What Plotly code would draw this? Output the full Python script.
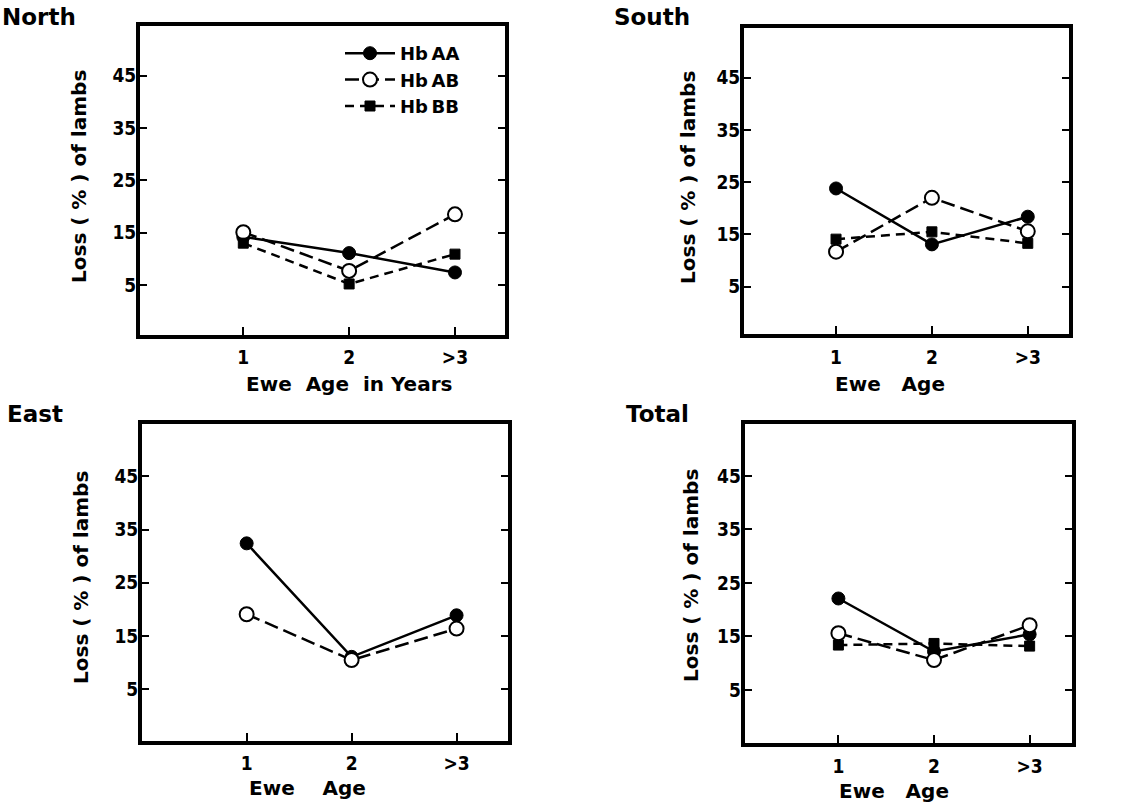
import plotly.graph_objects as go

W, H = 1142, 802

# ---------------- data ----------------
ages = [1, 2, 3]
age_labels = ["1", "2", ">3"]
y_ticks = [5, 15, 25, 35, 45]
genotypes = ["HbAA", "HbAB", "HbBB"]

north_aa = [14.2, 11.1, 7.4]
north_ab = [15.1, 7.7, 18.5]
north_bb = [13.0, 5.2, 10.9]

south_aa = [23.8, 13.1, 18.4]
south_ab = [11.7, 22.0, 15.6]
south_bb = [14.1, 15.5, 13.3]

east_aa = [32.4, 11.1, 18.9]
east_ab = [19.1, 10.5, 16.4]

total_aa = [22.1, 12.2, 15.4]
total_ab = [15.6, 10.6, 17.1]
total_bb = [13.4, 13.7, 13.2]

legend_names = ["Hb\u2009AA", "Hb\u2009AB", "Hb\u2009BB"]
panel_names = ["North", "South", "East", "Total"]
x_titles = ["Ewe\u00a0\u00a0Age\u00a0\u00a0in\u00a0Years", "Ewe\u00a0\u00a0\u00a0Age",
            "Ewe\u00a0\u00a0\u00a0\u00a0Age", "Ewe\u00a0\u00a0\u00a0Age"]
y_title = "Loss\u00a0(\u00a0%\u00a0)\u00a0of\u00a0lambs"

# ---------------- styles ----------------
styles = {
    "HbAA": dict(line=dict(color="black", width=2.5, dash="solid"),
                 marker=dict(symbol="circle", size=13, color="black",
                             line=dict(color="black", width=1))),
    "HbAB": dict(line=dict(color="black", width=2.5, dash="14px,6px"),
                 marker=dict(symbol="circle", size=14, color="white",
                             line=dict(color="black", width=2))),
    "HbBB": dict(line=dict(color="black", width=2.5, dash="9px,6px"),
                 marker=dict(symbol="square", size=10, color="black",
                             line=dict(color="black", width=1))),
}


def px_x(x):
    return x / W


def px_y(y):
    return 1 - y / H


panels = [
    dict(name="North", series={"HbAA": north_aa, "HbAB": north_ab, "HbBB": north_bb},
         xd=(140, 504.5), yd=(25.5, 334.5), xr=(0.024, 3.468), yr=(-4.46, 54.6),
         title_pos=(0, 17), ytitle_pos=(79, 177), xtitle_pos=(349, 384)),
    dict(name="South", series={"HbAA": south_aa, "HbAB": south_ab, "HbBB": south_bb},
         xd=(744, 1069), yd=(27.5, 334), xr=(0.04, 3.43), yr=(-4.05, 54.6),
         title_pos=(612, 17), ytitle_pos=(688, 177), xtitle_pos=(890, 384)),
    dict(name="East", series={"HbAA": east_aa, "HbAB": east_ab},
         xd=(142, 508), yd=(424, 740.5), xr=(0.003, 3.49), yr=(-4.6, 54.8),
         title_pos=(5, 414), ytitle_pos=(81, 578), xtitle_pos=(307, 788)),
    dict(name="Total", series={"HbAA": total_aa, "HbAB": total_ab, "HbBB": total_bb},
         xd=(744.7, 1071.7), yd=(424, 743), xr=(0.02, 3.44), yr=(-4.9, 54.7),
         title_pos=(624, 414), ytitle_pos=(691, 576), xtitle_pos=(894, 791)),
]

fig = go.Figure()
title_font = dict(family="DejaVu Sans", size=23, color="black", weight="bold")
axis_title_font = dict(family="DejaVu Sans", size=20, color="black", weight="bold")
tick_font = dict(family="DejaVu Sans Condensed, DejaVu Sans", size=19, color="black", weight="bold")

annotations = []
for i, p in enumerate(panels):
    suffix = "" if i == 0 else str(i + 1)
    xa, ya = "x" + suffix, "y" + suffix
    for g, lname in zip(genotypes, legend_names):
        if g not in p["series"]:
            continue
        st = styles[g]
        fig.add_trace(go.Scatter(
            x=ages, y=p["series"][g], mode="lines+markers", name=lname,
            line=st["line"], marker=st["marker"], xaxis=xa, yaxis=ya,
            showlegend=(i == 0), legendgroup=g))
    xaxis = dict(domain=[px_x(p["xd"][0]), px_x(p["xd"][1])], range=list(p["xr"]),
                 anchor=ya, showline=True, linewidth=4, linecolor="black", mirror=True,
                 ticks="inside", ticklen=8, tickwidth=2, tickcolor="black",
                 tickvals=ages, ticktext=age_labels, tickfont=tick_font,
                 showgrid=False, zeroline=False, ticklabelstandoff=3)
    yaxis = dict(domain=[px_y(p["yd"][1]), px_y(p["yd"][0])], range=list(p["yr"]),
                 anchor=xa, showline=True, linewidth=4, linecolor="black", mirror="ticks",
                 ticks="inside", ticklen=7, tickwidth=2, tickcolor="black",
                 tickvals=y_ticks, tickfont=tick_font,
                 showgrid=False, zeroline=False, ticklabelstandoff=-4)
    fig.layout["xaxis" + suffix] = xaxis
    fig.layout["yaxis" + suffix] = yaxis

    annotations.append(dict(text=p["name"], xref="paper", yref="paper",
                            x=px_x(p["title_pos"][0]), y=px_y(p["title_pos"][1]),
                            xanchor="left", yanchor="middle", showarrow=False, font=title_font))
    annotations.append(dict(text=y_title, xref="paper", yref="paper",
                            x=px_x(p["ytitle_pos"][0]), y=px_y(p["ytitle_pos"][1]),
                            xanchor="center", yanchor="middle", textangle=-90,
                            showarrow=False, font=axis_title_font))
    annotations.append(dict(text=x_titles[i], xref="paper", yref="paper",
                            x=px_x(p["xtitle_pos"][0]), y=px_y(p["xtitle_pos"][1]),
                            xanchor="center", yanchor="middle",
                            showarrow=False, font=axis_title_font))

fig.update_layout(
    width=W, height=H, margin=dict(l=0, r=0, t=0, b=0),
    paper_bgcolor="white", plot_bgcolor="white",
    annotations=annotations,
    showlegend=True,
    legend=dict(x=px_x(340), y=px_y(35), xanchor="left", yanchor="top",
                bgcolor="rgba(0,0,0,0)", itemwidth=50,
                font=dict(family="DejaVu Sans", size=18, color="black", weight="bold"),
                tracegroupgap=0),
)

fig.write_html("out.html")
